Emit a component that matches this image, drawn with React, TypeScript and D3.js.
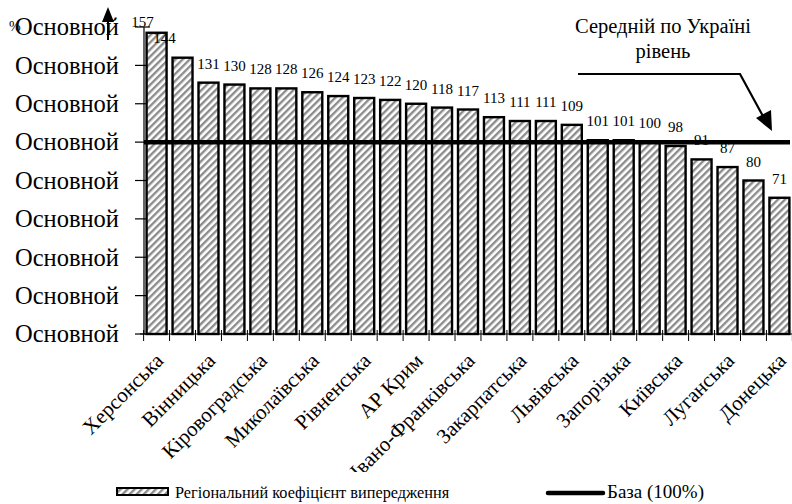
import { useMemo } from "react";
import * as d3 from "d3";

// regional advance coefficient, % of the national average (sorted)
const values = [157, 144, 131, 130, 128, 128, 126, 124, 123, 122, 120, 118, 117, 113, 111, 111, 109, 101, 101, 100, 98, 91, 87, 80, 71];
// only every second bar carries a name on the axis
const labels = ["Херсонська", "Вінницька", "Кіровоградська", "Миколаївська", "Рівненська", "АР Крим", "Івано-Франківська", "Закарпатська", "Львівська", "Запорізька", "Київська", "Луганська", "Донецька"];
const yTicks = [0, 20, 40, 60, 80, 100, 120, 140, 160];
const yTickLabel = "Основной";
const baseValue = 100;
const seriesName = "Регіональний коефіцієнт випередження";
const baseName = "База (100%)";
const noteLines = ["Середній по Україні", "рівень"];

const W = 792;
const H = 504;
const FONT = "'Liberation Serif', 'Times New Roman', 'DejaVu Serif', serif";

export default function App() {
  const x = useMemo(
    () =>
      d3
        .scaleBand<number>()
        .domain(d3.range(values.length))
        .range([144, 792])
        .paddingInner(0.23)
        .paddingOuter(0.1),
    []
  );
  const y = useMemo(() => d3.scaleLinear().domain([0, 160]).range([334, 27]), []);

  const bw = x.bandwidth();
  const step = x.step();
  const yBase = y(baseValue);

  // hand-moved labels of the first two bars
  const nudge: Record<number, [number, number]> = { 0: [-14, 8], 1: [-18, -1] };

  // boundaries between categories for x ticks
  const xTickPos = d3.range(values.length + 1).map((i) => (x(0) ?? 0) - (step - bw) / 2 + i * step);

  const txt = { fontFamily: FONT };

  return (
    <svg width={W} height={H} style={{ position: "absolute", left: 0, top: 0, background: "#fff", fontFamily: FONT }}>
      <defs>
        <pattern id="hatch" patternUnits="userSpaceOnUse" width="5" height="5" patternTransform="rotate(45)">
          <rect width="5" height="5" fill="#fff" />
          <rect width="2.4" height="5" fill="#8c8c8c" />
        </pattern>
        <clipPath id="labelClip">
          <rect x="0" y="0" width={W} height="472" />
        </clipPath>
      </defs>

      {/* y axis */}
      <line x1={144} x2={144} y1={y(160)} y2={334} stroke="#000" strokeWidth={1.2} />
      {yTicks.map((t) => (
        <g key={t}>
          <line x1={135} x2={150} y1={y(t)} y2={y(t)} stroke="#000" strokeWidth={1.2} />
          <text x={119} y={y(t)} dy="0.34em" textAnchor="end" fontSize={24.5} fill="#000" style={txt}>
            {yTickLabel}
          </text>
        </g>
      ))}
      <text x={9} y={31} fontSize={14} fill="#000" style={txt}>%</text>
      {/* axis arrow */}
      <line x1={108} x2={108} y1={40} y2={18} stroke="#000" strokeWidth={2} />
      <path d="M102,22 L108,7 L114,22 Z" fill="#000" />

      {/* bars */}
      {values.map((v, i) => (
        <rect
          key={i}
          x={x(i)}
          y={y(v)}
          width={bw}
          height={334 - y(v)}
          fill="url(#hatch)"
          stroke="#000"
          strokeWidth={2.4}
        />
      ))}

      {/* x axis */}
      <line x1={140} x2={792} y1={334} y2={334} stroke="#000" strokeWidth={1.2} />
      {xTickPos.map((p, i) => (
        <line key={i} x1={p} x2={p} y1={330} y2={341} stroke="#000" strokeWidth={1} />
      ))}

      {/* value labels */}
      {values.map((v, i) => {
        const [dx, dy] = nudge[i] ?? [0, 0];
        return (
          <text key={i} x={(x(i) ?? 0) + bw / 2 + dx} y={y(v) - 14 + dy} textAnchor="middle" fontSize={15} fill="#000" style={txt}>
            {v}
          </text>
        );
      })}

      {/* base line */}
      <line x1={144} x2={790} y1={yBase} y2={yBase} stroke="#000" strokeWidth={4.5} />

      {/* category labels */}
      <g clipPath="url(#labelClip)">
        {labels.map((name, k) => {
          const i = k * 2;
          const cx = (x(i) ?? 0) + bw / 2 + 8;
          const cy = 362;
          return (
            <text key={name} transform={`translate(${cx},${cy}) rotate(-45)`} textAnchor="end" fontSize={21} fill="#000" style={txt}>
              {name}
            </text>
          );
        })}
      </g>

      {/* annotation */}
      <text x={663} y={33} textAnchor="middle" fontSize={20.5} fill="#000" style={txt}>{noteLines[0]}</text>
      <text x={663} y={58} textAnchor="middle" fontSize={20.5} fill="#000" style={txt}>{noteLines[1]}</text>
      <polyline points="578,74 740,74 764,118" fill="none" stroke="#000" strokeWidth={2.2} />
      <path d="M756,118 L772,131 L771,110 Z" fill="#000" />

      {/* legend */}
      <rect x={117} y={488} width={51} height={7} fill="url(#hatch)" stroke="#000" strokeWidth={2} />
      <text x={175} y={498} fontSize={16.3} fill="#000" style={txt}>{seriesName}</text>
      <line x1={548} x2={603} y1={493} y2={493} stroke="#000" strokeWidth={4.5} strokeLinecap="round" />
      <text x={607} y={498} fontSize={19} fill="#000" style={txt}>{baseName}</text>
    </svg>
  );
}
